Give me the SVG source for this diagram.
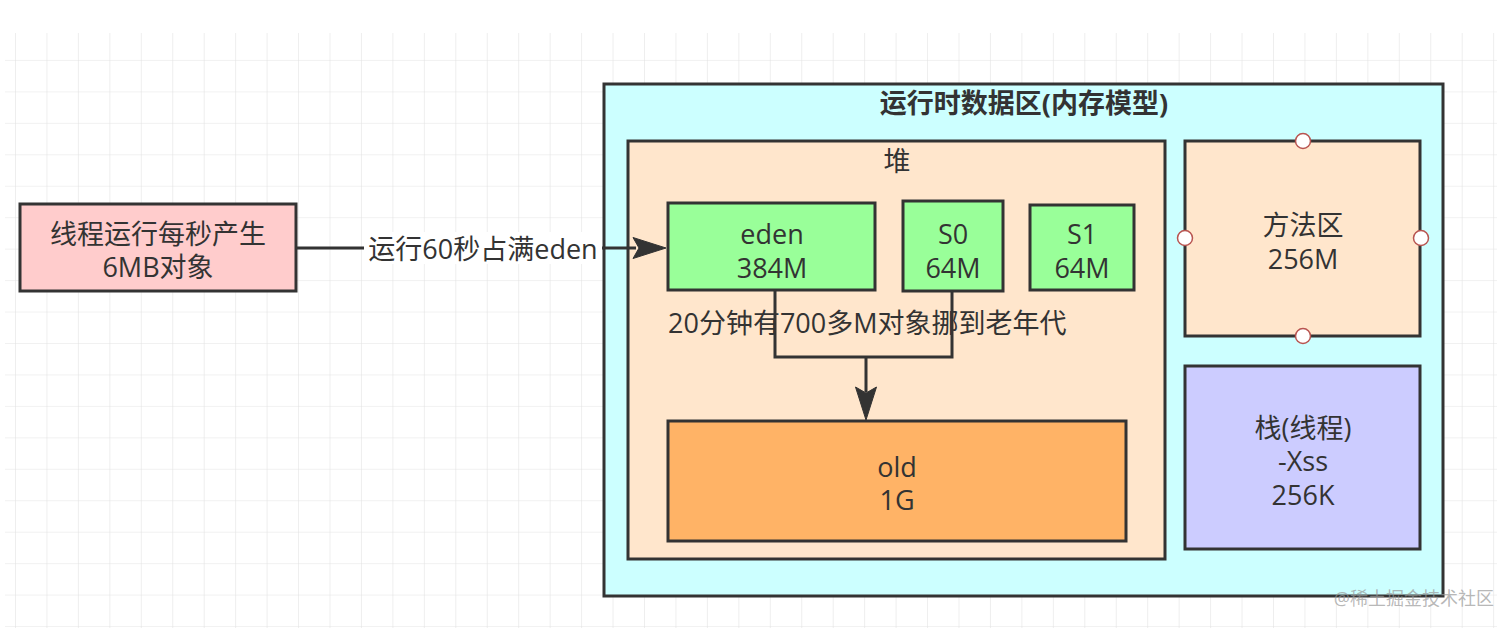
<svg xmlns="http://www.w3.org/2000/svg" width="1512" height="628" viewBox="0 0 1512 628">
<style>
text{font-family:"Open Sans","Noto Sans CJK SC",sans-serif;font-size:27px;fill:#333;text-anchor:middle;dominant-baseline:central}
.box{stroke:#333;stroke-width:3}
.ln{fill:none;stroke:#333;stroke-width:3}
.ah{fill:#333;stroke:#333;stroke-width:1}
.pt{fill:#fff;stroke:#b85450;stroke-width:1.5}
</style>
<defs>
<pattern id="grid" x="15" y="28.5" width="31.45" height="31.45" patternUnits="userSpaceOnUse">
<path d="M0 0V31.45M0 0H31.45" fill="none" stroke="#e3e3e3" stroke-width="1.2"/>
</pattern>
</defs>
<rect width="1512" height="628" fill="#fff"/>
<rect x="5" y="33" width="1492" height="595" fill="url(#grid)"/>

<g id="thread">
<rect class="box" x="20" y="204" width="276" height="87" fill="#ffcccc"/>
<text x="158" y="233">线程运行每秒产生<tspan x="158" dy="33">6MB对象</tspan></text>
</g>

<g id="runtime">
<rect class="box" x="604" y="84" width="839" height="512" fill="#ccffff"/>
<text x="1024" y="102" style="font-weight:bold">运行时数据区(内存模型)</text>
</g>

<g id="heap">
<rect class="box" x="628" y="141" width="537" height="418" fill="#ffe6cc"/>
<text x="897" y="160">堆</text>
</g>

<g id="eden">
<rect class="box" x="668" y="203" width="207" height="87" fill="#99ff99"/>
<text x="772" y="233">eden<tspan x="772" dy="34">384M</tspan></text>
</g>

<g id="s0">
<rect class="box" x="903" y="201" width="100" height="90" fill="#99ff99"/>
<text x="953" y="233">S0<tspan x="953" dy="34">64M</tspan></text>
</g>

<g id="s1">
<rect class="box" x="1030" y="205" width="104" height="85" fill="#99ff99"/>
<text x="1082" y="233">S1<tspan x="1082" dy="34">64M</tspan></text>
</g>

<g id="old">
<rect class="box" x="668" y="421" width="458" height="120" fill="#ffb366"/>
<text x="897" y="466">old<tspan x="897" dy="33">1G</tspan></text>
</g>

<g id="method">
<rect class="box" x="1185" y="141" width="235" height="195" fill="#ffe6cc"/>
<text x="1303" y="224">方法区<tspan x="1303" dy="34">256M</tspan></text>
<circle class="pt" cx="1303" cy="141" r="7.5"/>
<circle class="pt" cx="1185" cy="238" r="7.5"/>
<circle class="pt" cx="1421" cy="238" r="7.5"/>
<circle class="pt" cx="1303" cy="336" r="7.5"/>
</g>

<g id="stack">
<rect class="box" x="1185" y="366" width="235" height="183" fill="#ccccff"/>
<text x="1303" y="427">栈(线程)<tspan x="1303" dy="33">-Xss</tspan><tspan x="1303" dy="34">256K</tspan></text>
</g>

<g id="connectors">
<path class="ln" d="M296 248H636"/>
<polygon class="ah" points="666,248 633,237.5 639,248 633,258.5"/>
<rect x="364" y="232" width="238" height="32" fill="#fff"/>
<text x="483" y="248">运行60秒占满eden</text>
<path class="ln" d="M775 290V357H952V291M866 357V392"/>
<polygon class="ah" points="866,420 855.5,387 866,393 876.5,387"/>
</g>

<text x="668" y="322" style="text-anchor:start">20分钟有700多M对象挪到老年代</text>

<text x="1494" y="598" style="font-size:18px;text-anchor:end;fill:#999;fill-opacity:0.7">@稀土掘金技术社区</text>
</svg>
